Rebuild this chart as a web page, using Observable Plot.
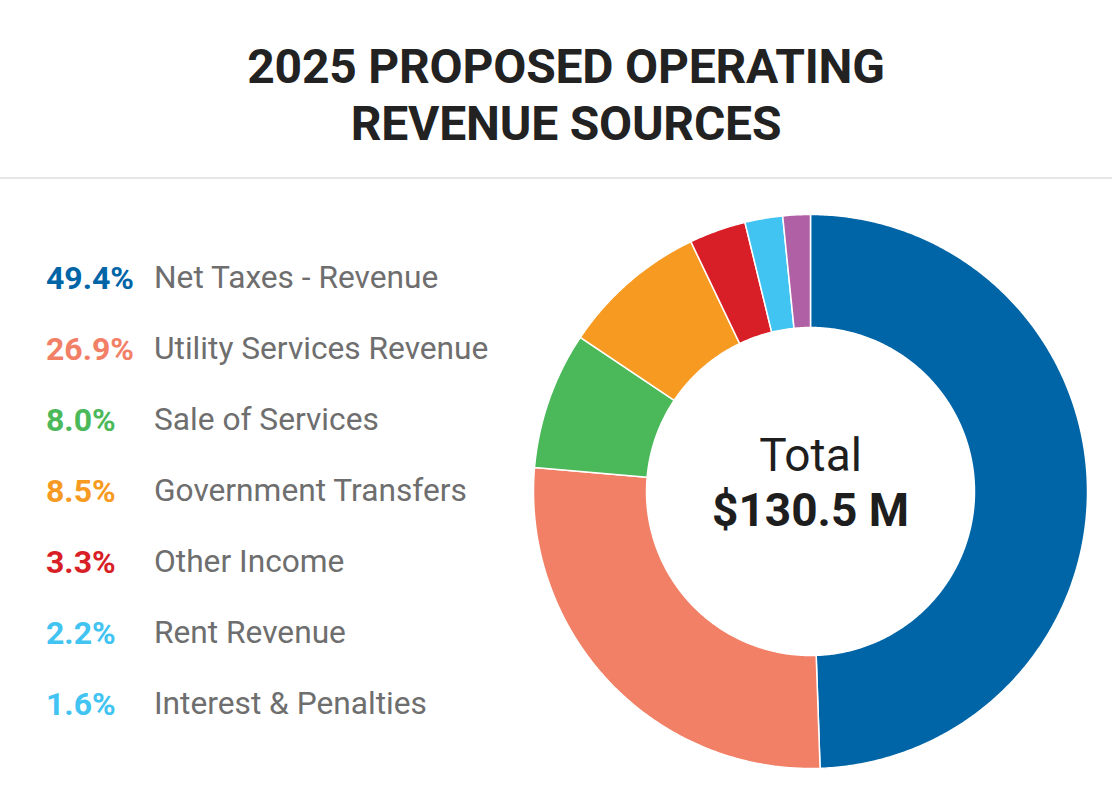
<!DOCTYPE html>
<html>
<head>
<meta charset="utf-8">
<script src="https://cdn.jsdelivr.net/npm/d3@7"></script>
<script src="https://cdn.jsdelivr.net/npm/@observablehq/plot@0.6"></script>
<style>
  html, body { margin: 0; padding: 0; background: #fff; }
  #page { position: relative; width: 1112px; height: 800px; overflow: hidden; font-family: Roboto, "Noto Sans", sans-serif; }
  #title { position: absolute; top: 38px; left: 10px; width: 1112px; text-align: center; font-weight: 700; font-size: 48px; line-height: 57px; color: #222; letter-spacing: -0.2px; }
  #rule { position: absolute; top: 177px; left: 0; width: 1112px; height: 2px; background: #e6e6e6; }
  #legend { position: absolute; left: 46px; top: 0; }
  .row { position: absolute; left: 0; white-space: nowrap; font-size: 31.7px; line-height: 40px; }
  .pct { position: absolute; left: 0; font-weight: 700; font-size: 32px; }
  .lab { position: absolute; left: 108px; color: #6e6e6e; font-weight: 400; }
  #chart { position: absolute; left: 0; top: 180px; }
</style>
</head>
<body>
<div id="page">
  <div id="title">2025 PROPOSED OPERATING<br>REVENUE SOURCES</div>
  <div id="rule"></div>
  <div id="legend"></div>
  <div id="chart"></div>
</div>
<script>
// ---- data ----
const categories = ["Net Taxes - Revenue", "Utility Services Revenue", "Sale of Services", "Government Transfers", "Other Income", "Rent Revenue", "Interest & Penalties"];
const shares = [49.4, 26.9, 8.0, 8.5, 3.3, 2.2, 1.6];
const sliceColors = ["#0065a6", "#f28066", "#4bb85a", "#f79a22", "#d81f27", "#41c4f1", "#b061a5"];
const legendColors = ["#0065a6", "#f28066", "#4bb85a", "#f79a22", "#d81f27", "#41c4f1", "#41c4f1"];
const totalLabel = "Total";
const totalValue = "$130.5 M";

// ---- legend (HTML) ----
const legend = document.getElementById("legend");
categories.forEach((c, i) => {
  const row = document.createElement("div");
  row.className = "row";
  row.style.top = (258 + i * 71) + "px";
  const p = document.createElement("span");
  p.className = "pct";
  p.style.color = legendColors[i];
  p.textContent = shares[i].toFixed(1) + "%";
  const l = document.createElement("span");
  l.className = "lab";
  l.textContent = c;
  row.appendChild(p); row.appendChild(l);
  legend.appendChild(row);
});

// ---- donut geometry from data ----
const innerRatio = 0.592;
const total = d3.sum(shares);
const pts = [];
let acc = 0;
categories.forEach((c, i) => {
  const a0 = acc / total * 2 * Math.PI;
  acc += shares[i];
  const a1 = acc / total * 2 * Math.PI;
  const n = Math.max(4, Math.ceil((a1 - a0) / (Math.PI / 360)));
  const ring = [];
  for (let k = 0; k <= n; k++) {
    const a = a0 + (a1 - a0) * k / n;
    ring.push({name: c, x: Math.sin(a), y: Math.cos(a)});
  }
  for (let k = n; k >= 0; k--) {
    const a = a0 + (a1 - a0) * k / n;
    ring.push({name: c, x: innerRatio * Math.sin(a), y: innerRatio * Math.cos(a)});
  }
  ring.push(ring[0]);
  pts.push(...ring);
});

const W = 1112, H = 620, cx = 810, cy = 311, R = 277;
const chart = Plot.plot({
  width: W,
  height: H,
  margin: 0,
  style: {fontFamily: "Roboto, sans-serif", background: "transparent"},
  x: {domain: [-1, 1], range: [cx - R, cx + R], axis: null},
  y: {domain: [-1, 1], range: [cy + R, cy - R], axis: null},
  color: {domain: categories, range: sliceColors},
  marks: [
    Plot.line(pts, {x: "x", y: "y", z: "name", fill: "name", stroke: "white", strokeWidth: 1.5, strokeLinejoin: "round", curve: "linear"}),
    Plot.text([totalLabel], {x: () => 0, y: () => 0, text: d => d, dy: -35, fontSize: 46, fontWeight: 400, fill: "#1e1e1e"}),
    Plot.text([totalValue], {x: () => 0, y: () => 0, text: d => d, dy: 20, fontSize: 46, fontWeight: 700, fill: "#1e1e1e"})
  ]
});
document.getElementById("chart").appendChild(chart);
</script>
</body>
</html>
